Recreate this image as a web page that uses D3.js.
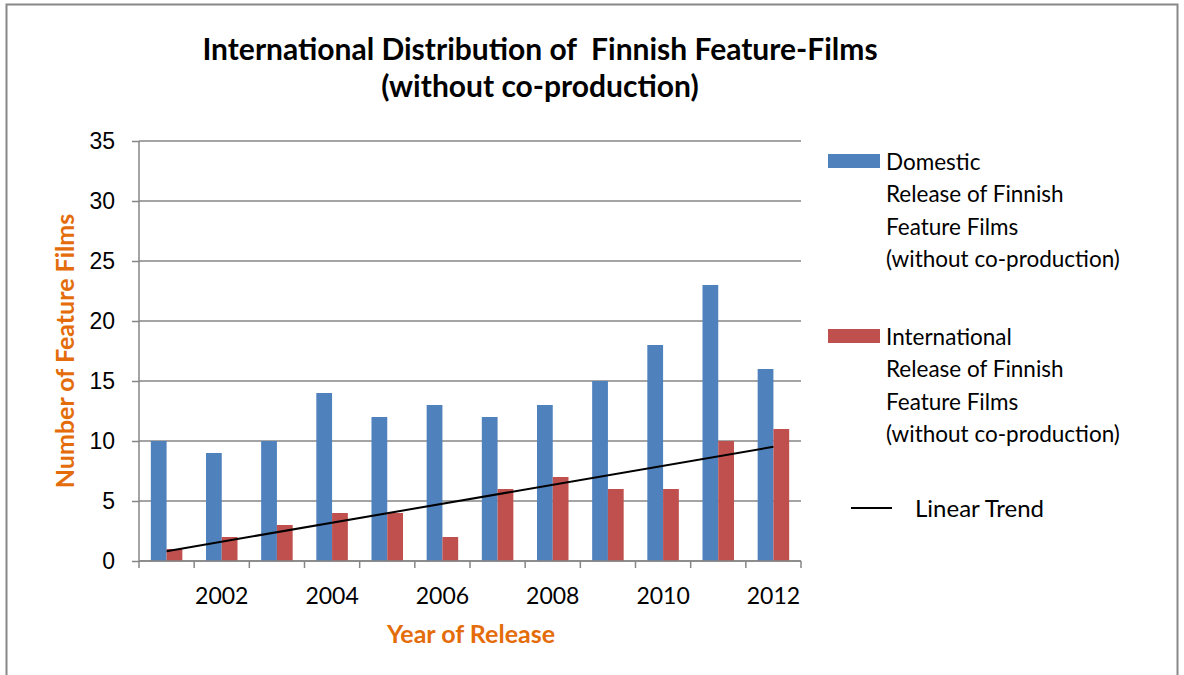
<!DOCTYPE html>
<html>
<head>
<meta charset="utf-8">
<script src="https://cdn.jsdelivr.net/npm/d3@7"></script>
<style>
  body { margin: 0; background: #fff; }
  svg { display: block; font-family: Lato, "Open Sans", sans-serif; }
</style>
</head>
<body>
<div id="chart"></div>
<script>
// data
const years = [2001, 2002, 2003, 2004, 2005, 2006, 2007, 2008, 2009, 2010, 2011, 2012];
const domestic = [10, 9, 10, 14, 12, 13, 12, 13, 15, 18, 23, 16];
const international = [1, 2, 3, 4, 4, 2, 6, 7, 6, 6, 10, 11];
const yTicks = [0, 5, 10, 15, 20, 25, 30, 35];
const seriesNames = ["Domestic", "International"];
const legendLabels = [
  ["Domestic", "Release of Finnish", "Feature Films", "(without co-production)"],
  ["International", "Release of Finnish", "Feature Films", "(without co-production)"]
];

const W = 1184, H = 675;
const plot = { left: 139, right: 801, top: 141, bottom: 561 };
const colors = { Domestic: "#4f81bd", International: "#c0504d" };
const gridColor = "#868686";
const orange = "#e46c0a";

const svg = d3.select("#chart").append("svg")
  .attr("width", W)
  .attr("height", H);

// outer frame
svg.append("rect")
  .attr("x", 6.5).attr("y", 4.5)
  .attr("width", 1171).attr("height", 700)
  .attr("fill", "#fff")
  .attr("stroke", "#888")
  .attr("stroke-width", 2);

const x = d3.scaleBand()
  .domain(years)
  .range([plot.left, plot.right])
  .paddingInner(0).paddingOuter(0);

const x1 = d3.scaleBand()
  .domain(seriesNames)
  .range([0, x.bandwidth()])
  .paddingInner(0).paddingOuter(0.75);

const y = d3.scaleLinear()
  .domain([0, 35])
  .range([plot.bottom, plot.top]);

// gridlines + y ticks
const yAxis = svg.append("g")
  .attr("transform", "translate(" + plot.left + ",0)")
  .call(d3.axisLeft(y).tickValues(yTicks).tickSize(7).tickPadding(17));
yAxis.select(".domain").remove();
yAxis.selectAll(".tick line").attr("stroke", gridColor).attr("stroke-width", 1.5);
yAxis.selectAll(".tick text")
  .attr("fill", "#000")
  .style("font-size", "23px");

svg.append("g")
  .selectAll("line")
  .data(yTicks)
  .enter()
  .append("line")
  .attr("x1", plot.left)
  .attr("x2", plot.right)
  .attr("y1", d => y(d))
  .attr("y2", d => y(d))
  .attr("stroke", gridColor)
  .attr("stroke-width", 1.5);

// y axis line
svg.append("line")
  .attr("x1", plot.left).attr("x2", plot.left)
  .attr("y1", plot.top).attr("y2", plot.bottom)
  .attr("stroke", gridColor)
  .attr("stroke-width", 1.5);

// bars
const rows = years.map((yr, i) => ({
  year: yr,
  values: [
    { name: "Domestic", value: domestic[i] },
    { name: "International", value: international[i] }
  ]
}));

const groups = svg.append("g")
  .selectAll("g")
  .data(rows)
  .enter()
  .append("g")
  .attr("transform", d => "translate(" + x(d.year) + ",0)");

groups.selectAll("rect")
  .data(d => d.values)
  .enter()
  .append("rect")
  .attr("x", d => x1(d.name))
  .attr("width", x1.bandwidth())
  .attr("y", d => y(d.value))
  .attr("height", d => y(0) - y(d.value))
  .attr("fill", d => colors[d.name]);

// x axis: ticks at band edges, labels every second year
const edges = years.map(d => x(d)).concat([plot.right]);
svg.append("g")
  .selectAll("line")
  .data(edges)
  .enter()
  .append("line")
  .attr("x1", d => d).attr("x2", d => d)
  .attr("y1", plot.bottom).attr("y2", plot.bottom + 7)
  .attr("stroke", gridColor)
  .attr("stroke-width", 1.5);

svg.append("line")
  .attr("x1", plot.left).attr("x2", plot.right)
  .attr("y1", plot.bottom).attr("y2", plot.bottom)
  .attr("stroke", gridColor)
  .attr("stroke-width", 1.5);

svg.append("g")
  .selectAll("text")
  .data(years.filter(d => d % 2 === 0))
  .enter()
  .append("text")
  .attr("x", d => x(d) + x.bandwidth() / 2)
  .attr("y", 604)
  .attr("text-anchor", "middle")
  .style("font-size", "23px")
  .text(d => d);

// linear trend of international releases
const idx = years.map((d, i) => i + 1);
const mx = d3.mean(idx), my = d3.mean(international);
const slope = d3.sum(idx, (v, i) => (v - mx) * (international[i] - my)) /
  d3.sum(idx, v => (v - mx) * (v - mx));
const icpt = my - slope * mx;
const trend = [years[0], years[years.length - 1]].map(yr => ({
  year: yr,
  value: icpt + slope * (years.indexOf(yr) + 1)
}));

svg.append("path")
  .datum(trend)
  .attr("fill", "none")
  .attr("stroke", "#000")
  .attr("stroke-width", 2)
  .attr("d", d3.line()
    .x(d => x(d.year) + x.bandwidth() / 2)
    .y(d => y(d.value)));

// titles
const title = svg.append("text")
  .attr("text-anchor", "middle")
  .style("font-size", "30px")
  .style("font-weight", "bold")
  .style("white-space", "pre");
title.append("tspan").attr("x", 540).attr("y", 60)
  .text("International Distribution of  Finnish Feature-Films");
title.append("tspan").attr("x", 540).attr("y", 97)
  .text("(without co-production)");

svg.append("text")
  .attr("transform", "translate(74,351) rotate(-90)")
  .attr("text-anchor", "middle")
  .attr("fill", orange)
  .style("font-size", "25px")
  .style("font-weight", "bold")
  .text("Number of Feature Films");

svg.append("text")
  .attr("x", 471).attr("y", 643)
  .attr("text-anchor", "middle")
  .attr("fill", orange)
  .style("font-size", "25px")
  .style("font-weight", "bold")
  .text("Year of Release");

// legend
const legendTop = [154, 329];
seriesNames.forEach((name, i) => {
  svg.append("rect")
    .attr("x", 828).attr("y", legendTop[i])
    .attr("width", 52).attr("height", 14)
    .attr("fill", colors[name]);
  const t = svg.append("text").style("font-size", "22.5px");
  legendLabels[i].forEach((line, j) => {
    t.append("tspan")
      .attr("x", 886)
      .attr("y", legendTop[i] + 16 + j * 32.4)
      .text(line);
  });
});

svg.append("line")
  .attr("x1", 851).attr("x2", 892)
  .attr("y1", 508).attr("y2", 508)
  .attr("stroke", "#000")
  .attr("stroke-width", 2);

svg.append("text")
  .attr("x", 915).attr("y", 517)
  .style("font-size", "24px")
  .text("Linear Trend");
</script>
</body>
</html>
